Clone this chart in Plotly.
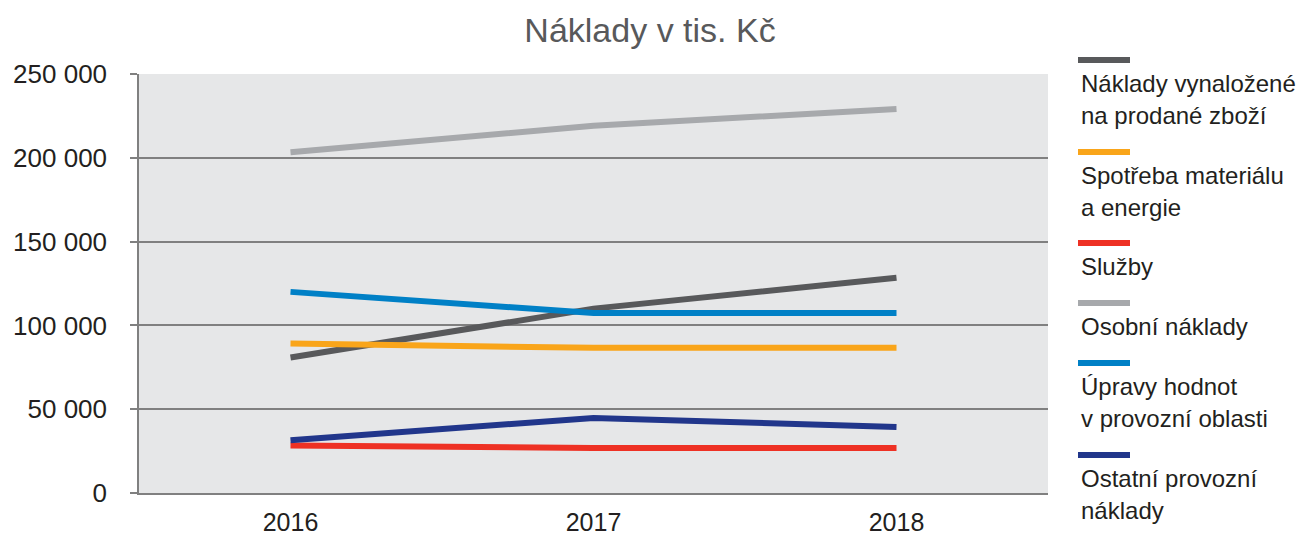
import plotly.graph_objects as go

years = ["2016", "2017", "2018"]
series_names = [
    "Náklady vynaložené<br>na prodané zboží",
    "Spotřeba materiálu<br>a energie",
    "Služby",
    "Osobní náklady",
    "Úpravy hodnot<br>v provozní oblasti",
    "Ostatní provozní<br>náklady",
]
naklady_zbozi = [80800, 110000, 128400]
spotreba = [89200, 86600, 86600]
sluzby = [28300, 26900, 26900]
osobni = [203300, 219100, 229100]
upravy = [120000, 107400, 107400]
ostatni = [31500, 44800, 39400]
series_values = [naklady_zbozi, spotreba, sluzby, osobni, upravy, ostatni]
colors = ["#58595b", "#f9a51a", "#ee3124", "#a7a9ac", "#0080c6", "#21368b"]

W, H = 1306, 537
OFF = 8  # page body margin shifts the figure by 8px right and down
# target screen positions of the plot area
SL, SR, ST, SB = 139, 1048, 74, 493
L = SL - OFF
T = ST - OFF
R = W - (SR - OFF)
B = H - (SB - OFF)
pw, ph = W - L - R, H - T - B

def px_x(x):
    return (x - OFF - L) / pw

def px_y(y):
    return (H - B - (y - OFF)) / ph

fig = go.Figure()
for name, vals, col in zip(series_names, series_values, colors):
    fig.add_trace(go.Scatter(x=years, y=vals, mode="lines", name=name.replace("<br>", " "),
                             line=dict(color=col, width=6), showlegend=False))

# custom legend: sample line above the label text
legend_y = [60, 152, 243, 303, 363, 455]
shapes = []
annotations = []
for name, col, ly in zip(series_names, colors, legend_y):
    shapes.append(dict(type="line", xref="paper", yref="paper",
                       x0=px_x(1078), x1=px_x(1130), y0=px_y(ly), y1=px_y(ly),
                       line=dict(color=col, width=6)))
    for i, part in enumerate(name.split("<br>")):
        annotations.append(dict(xref="paper", yref="paper", x=px_x(1079), y=px_y(ly + 23 + 32 * i),
                                xanchor="left", yanchor="middle", text=part, showarrow=False,
                                font=dict(size=24, color="#231f20")))

fig.update_layout(
    width=W, height=H,
    margin=dict(l=L, r=R, t=T, b=B, autoexpand=False),
    paper_bgcolor="white",
    plot_bgcolor="#e6e7e8",
    font=dict(family="Liberation Sans, Arial, sans-serif", color="#231f20"),
    separators=", ",
    title=dict(text="Náklady v tis. Kč", x=(650 - OFF) / W, xanchor="center", xref="container",
               y=1 - (30 - OFF) / H, yanchor="middle", yref="container",
               font=dict(size=34, color="#58595b")),
    shapes=shapes,
    annotations=annotations,
    showlegend=False,
)
fig.update_xaxes(type="category", range=[-0.5, 2.5], showgrid=False, zeroline=False,
                 showline=True, linecolor="#808080", linewidth=1.5, ticks="",
                 tickfont=dict(size=25, color="#231f20"), ticklabelstandoff=6,
                 automargin=False)
fig.update_yaxes(range=[0, 250000], tickvals=[0, 50000, 100000, 150000, 200000, 250000],
                 tickformat=",d", showgrid=True, gridcolor="#808080", gridwidth=1.5,
                 zeroline=False, showline=True, linecolor="#808080", linewidth=1.5,
                 ticks="outside", ticklen=7, tickcolor="#808080", tickwidth=1.5,
                 tickfont=dict(size=26, color="#231f20"), ticklabelstandoff=18,
                 automargin=False)

fig.write_html("out.html")
